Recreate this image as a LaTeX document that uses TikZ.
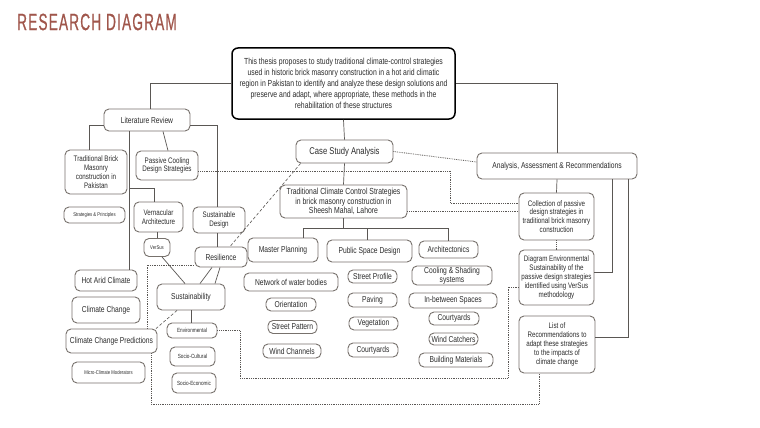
\documentclass[tikz,border=0pt]{standalone}
\usepackage{fontspec}
\setmainfont{Liberation Sans}[FakeStretch=0.78]
\newfontfamily\titlefont{Liberation Sans}[FakeStretch=0.58,LetterSpace=5,FakeBold=0.6]
\usetikzlibrary{calc}
\definecolor{bordergray}{HTML}{77716C}
\definecolor{linegray}{HTML}{5A5754}
\definecolor{txtgray}{HTML}{2C2C2C}
\definecolor{titlered}{HTML}{A0564B}
\tikzset{
  box/.style={draw=bordergray, line width=0.9pt, rounded corners=5pt, inner sep=0pt,
    align=center, text=txtgray, font=\fontsize{8.6}{9}\selectfont},
  mainbox/.style={draw=black, line width=1.5pt, rounded corners=6pt, inner sep=0pt,
    align=center, text=txtgray, font=\fontsize{8.8}{11}\selectfont},
  fB/.style={font=\fontsize{8.8}{9.3}\selectfont},
  fC/.style={font=\fontsize{8}{8.8}\selectfont},
  fD/.style={font=\fontsize{5.4}{6}\selectfont},
  fE/.style={font=\fontsize{6}{6.5}\selectfont},
  conn/.style={draw=linegray, line width=0.7pt},
  dotconn/.style={draw=linegray, line width=0.8pt, densely dotted},
  dashconn/.style={draw=linegray, line width=0.6pt, densely dashed},
}
\begin{document}
\begin{tikzpicture}[x=1pt,y=-1pt]
\useasboundingbox (0,0) rectangle (760,428);
\fill[white] (0,0) rectangle (760,428);
\node[anchor=west, text=titlered, font=\titlefont\fontsize{23.5}{24}\selectfont, inner sep=0pt] (title) at (17,22) {RESEARCH DIAGRAM};

% main
\node[mainbox, minimum width=223, minimum height=71] (main) at (343.5,83.5) {This thesis proposes to study traditional climate-control strategies\\used in historic brick masonry construction in a hot arid climatic\\region in Pakistan to identify and analyze these design solutions and\\preserve and adapt, where appropriate, these methods in the\\rehabilitation of these structures};

\node[box, minimum width=86, minimum height=22] (LR) at (147,120) {Literature Review};
\node[box, font=\fontsize{9.8}{10}\selectfont, minimum width=97, minimum height=23] (CS) at (344.5,151.5) {Case Study Analysis};
\node[box, minimum width=160, minimum height=26] (AAR) at (557,166) {Analysis, Assessment \& Recommendations};
\node[box, fB, minimum width=127, minimum height=33] (TCC) at (343.5,201.5) {Traditional Climate Control Strategies\\in brick masonry construction in\\Sheesh Mahal, Lahore};

\node[box, minimum width=70, minimum height=24] (MP) at (283,250) {Master Planning};
\node[box, minimum width=85, minimum height=22] (PSD) at (369.5,251) {Public Space Design};
\node[box, minimum width=59, minimum height=17] (ARC) at (448.5,249.5) {Architectonics};

\node[box, minimum width=94, minimum height=18] (NWB) at (291,282) {Network of water bodies};
\node[box, minimum width=50, minimum height=13] (ORI) at (291,304.5) {Orientation};
\node[box, minimum width=49, minimum height=13] (SPA) at (292.5,327) {Street Pattern};
\node[box, minimum width=58, minimum height=14] (WCH) at (292,351) {Wind Channels};

\node[box, minimum width=49, minimum height=13] (STP) at (372.5,276.5) {Street Profile};
\node[box, minimum width=49, minimum height=14] (PAV) at (372.5,300) {Paving};
\node[box, minimum width=49, minimum height=13] (VEG) at (373.5,323.5) {Vegetation};
\node[box, minimum width=50, minimum height=14] (CY1) at (373,350) {Courtyards};

\node[box, minimum width=80, minimum height=19] (CSS) at (452,275.5) {Cooling \& Shading\\systems};
\node[box, minimum width=88, minimum height=15] (IBS) at (453,300.5) {In-between Spaces};
\node[box, minimum width=50, minimum height=13] (CY2) at (454,318.5) {Courtyards};
\node[box, minimum width=49, minimum height=12] (WCA) at (453.5,339) {Wind Catchers};
\node[box, minimum width=74, minimum height=14] (BM) at (456,360) {Building Materials};

\node[box, fC, minimum width=75, minimum height=47] (COL) at (556.5,216.5) {Collection of passive\\design strategies in\\traditional brick masonry\\construction};
\node[box, fC, minimum width=75, minimum height=55] (DIA) at (556.5,277.5) {Diagram Environmental\\Sustainability of the\\passive design strategies\\identified using VerSus\\methodology};
\node[box, fC, minimum width=76, minimum height=57] (LIST) at (557,344.5) {List of\\Recommendations to\\adapt these strategies\\to the impacts of\\climate change};

\node[box, fC, minimum width=62, minimum height=44] (TBM) at (96,172) {Traditional Brick\\Masonry\\construction in\\Pakistan};
\node[box, fC, minimum width=62, minimum height=29] (PC) at (167,165.5) {Passive Cooling\\Design Strategies};
\node[box, fD, minimum width=61, minimum height=16] (SPR) at (94.5,215) {Strategies \& Principles};
\node[box, fC, minimum width=49, minimum height=30] (VA) at (158.5,217) {Vernacular\\Architecture};
\node[box, fC, minimum width=52, minimum height=26] (SD) at (219,220) {Sustainable\\Design};
\node[box, fD, minimum width=26, minimum height=18] (VS) at (157,247.5) {VerSus};
\node[box, minimum width=52, minimum height=20] (RES) at (221,257) {Resilience};

\node[box, minimum width=62, minimum height=21] (HAC) at (106,280.5) {Hot Arid Climate};
\node[box, minimum width=68, minimum height=26] (CC) at (106,310) {Climate Change};
\node[box, minimum width=91, minimum height=24] (CCP) at (111.5,341) {Climate Change Predictions};
\node[box, fD, minimum width=73, minimum height=21] (MCM) at (108.5,372.5) {Micro-Climate Moderators};

\node[box, minimum width=68, minimum height=26] (SUS) at (191,297) {Sustainability};
\node[box, fE, minimum width=50, minimum height=15] (ENV) at (192,330.5) {Environmental};
\node[box, fE, minimum width=45, minimum height=19] (SC) at (192.5,356.5) {Socio-Cultural};
\node[box, fE, minimum width=44, minimum height=20] (SE) at (194,383) {Socio-Economic};

% solid connectors
\draw[conn] (main.west) -| ([xshift=3]LR.north);
\draw[conn] (main.east) -| (AAR.north);
\draw[conn] (main.south) -- (CS.north);
\draw[conn] (CS.south) -- (TCC.north);
\coordinate (busL) at (303,228);
\coordinate (busM) at (367,228);
\coordinate (busR) at (448,228);
\draw[conn] (TCC.south) -- (TCC.south |- busL);
\draw[conn] (busL) -- (busR);
\draw[conn] (busL) -- (busL |- MP.north);
\draw[conn] (busM) -- (busM |- PSD.north);
\draw[conn] (busR) -- (busR |- ARC.north);
\draw[conn] (AAR.south) -- (COL.north);
\draw[conn] ([xshift=55]AAR.south) |- ([yshift=5.5]DIA.east);
\draw[conn] ([xshift=71]AAR.south) |- ([yshift=7.5]LIST.east);
\draw[conn] ([yshift=-5]LR.east) -| ([xshift=-2]SD.north);
\draw[conn] ([xshift=-2]SD.south) -- ([xshift=-4]RES.north);
\draw[conn] ([yshift=-5]LR.west) -| ([xshift=-7]TBM.north);
\draw[conn] ([xshift=-18]LR.south) -- ([xshift=-18]LR.south |- HAC.north);
\coordinate (j1) at (129,188);
\draw[conn] (j1) -| ([xshift=-4.5]VA.north);
\draw[conn] ([xshift=16]LR.south) -- ([xshift=1]PC.north);
\draw[conn] ([xshift=-1.5]VA.south) -- (VS.north);
\draw[conn] ([xshift=5]VS.south) -- ([xshift=-6]SUS.north);
\draw[conn] ([xshift=-9]RES.south) -- ([xshift=9]SUS.north);
\draw[conn] ([xshift=-1]RES.south) -- ([xshift=24]SUS.north);
\draw[conn] (SUS.south) -- (ENV.north -| SUS.south);

% dashed connectors
\draw[dashconn] ([xshift=5]CS.south west) -- ([xshift=9]RES.north);
\draw[dashconn] ([xshift=-14]SUS.south) -- ([xshift=44.5]CCP.north);

% dotted connectors
\draw[dotconn] (CS.east) -- ([yshift=4]AAR.west);
\draw[dotconn] (COL.south) -- (DIA.north);
\draw[dotconn] ([yshift=-5.5]PC.east) -- (450,171) -- (450,203) -- ([yshift=13.5]COL.west);
\draw[dotconn] ([yshift=-10]TCC.east) -- ([yshift=-10]TCC.east -| COL.west);
\draw[dotconn] (ENV.east) -- (240,330.5) -- (240,378) -- (508,378) -- (508,287) -- ([yshift=-9.5]DIA.west);
\draw[dotconn] ([xshift=39.5]CCP.south) -- (151,404) -- (539,404) -- ([xshift=-18]LIST.south);
\draw[dotconn] ([xshift=35.5]CCP.north) -- (147,265) -- ([yshift=-8]RES.west);
\end{tikzpicture}
\end{document}
